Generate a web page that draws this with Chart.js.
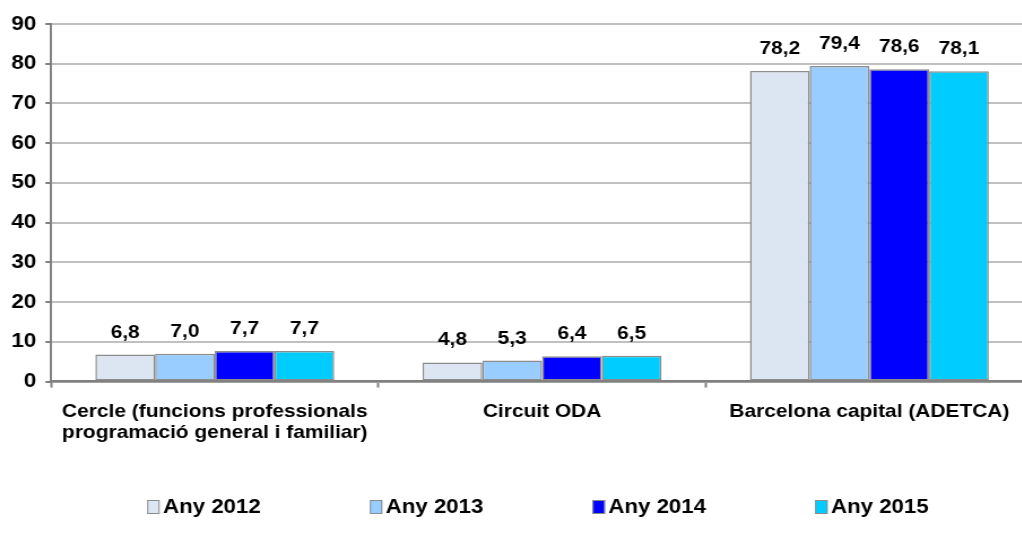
<!DOCTYPE html>
<html>
<head>
<meta charset="utf-8">
<script src="https://cdn.jsdelivr.net/npm/chart.js@4"></script>
<style>
  html, body { margin: 0; padding: 0; background: #fff; overflow: hidden; }
  /* the source chart is a bit stretched sideways and cut off on the right,
     so the canvas is drawn narrower, scaled up by css and clipped by the page */
  #chart { width: 1033px; height: 545px; }
</style>
</head>
<body>
<canvas id="chart" width="914" height="545" style="width:1033px;height:545px"></canvas>
<script>
// categories (x axis)
const categories = [
    ['Cercle (funcions professionals', 'programació general i familiar)'],
    'Circuit ODA',
    'Barcelona capital (ADETCA)'
];

// series
const seriesNames = ['Any 2012', 'Any 2013', 'Any 2014', 'Any 2015'];
const any2012 = [6.8, 4.8, 78.2];
const any2013 = [7.0, 5.3, 79.4];
const any2014 = [7.7, 6.4, 78.6];
const any2015 = [7.7, 6.5, 78.1];

// y axis ticks
const yMin = 0;
const yMax = 90;
const yStep = 10;

const colors = ['#dce6f2', '#99ccff', '#0000ff', '#00ccff'];
const borderGray = '#8c8c8c';
const fontFamily = '"Liberation Sans", Arial, sans-serif';
const fontSize = 18.5;

// value labels above each bar, with a comma as decimal mark
const valueLabels = {
    id: 'valueLabels',
    afterDatasetsDraw(chart) {
        const ctx = chart.ctx;
        ctx.save();
        ctx.font = 'bold ' + fontSize + 'px ' + fontFamily;
        ctx.fillStyle = '#000';
        ctx.textAlign = 'center';
        ctx.textBaseline = 'alphabetic';
        chart.data.datasets.forEach((ds, i) => {
            chart.getDatasetMeta(i).data.forEach((bar, j) => {
                const txt = ds.data[j].toFixed(1).replace('.', ',');
                ctx.fillText(txt, bar.x, bar.y - 17);
            });
        });
        ctx.restore();
    }
};

// legend drawn by hand so the items can sit far apart like the original
const wideLegend = {
    id: 'wideLegend',
    afterDraw(chart) {
        const ctx = chart.ctx;
        const area = chart.chartArea;
        const y = 507;
        ctx.save();
        ctx.font = 'bold 19.7px ' + fontFamily;
        ctx.textBaseline = 'middle';
        ctx.textAlign = 'left';
        chart.data.datasets.forEach((ds, i) => {
            const x = area.left + 85 + i * 197;
            ctx.fillStyle = ds.backgroundColor;
            ctx.fillRect(x, y - 7, 11, 14);
            ctx.strokeStyle = borderGray;
            ctx.lineWidth = 1;
            ctx.strokeRect(x + 0.5, y - 6.5, 10, 13);
            ctx.fillStyle = '#000';
            ctx.fillText(ds.label, x + 14, y + 1);
        });
        ctx.restore();
    }
};

const seriesData = [any2012, any2013, any2014, any2015];

const chart = new Chart(document.getElementById('chart'), {
    type: 'bar',
    data: {
        labels: categories,
        datasets: seriesNames.map((name, i) => ({
            label: name,
            data: seriesData[i],
            backgroundColor: colors[i],
            borderColor: borderGray,
            borderWidth: 1.5,
            borderSkipped: false,
            categoryPercentage: 0.73,
            barPercentage: 1.0
        }))
    },
    options: {
        responsive: false,
        devicePixelRatio: 1,
        animation: false,
        layout: {
            padding: { top: 24, left: 2, right: 0, bottom: 88 }
        },
        plugins: {
            legend: { display: false },
            tooltip: { enabled: false }
        },
        scales: {
            x: {
                grid: {
                    display: true,
                    drawOnChartArea: false,
                    drawTicks: true,
                    tickLength: 6,
                    tickColor: '#808080',
                    tickWidth: 2,
                    offset: true
                },
                border: { display: true, color: '#808080', width: 2.5 },
                ticks: {
                    color: '#000',
                    padding: 14,
                    maxRotation: 0,
                    autoSkip: false,
                    font: { family: fontFamily, size: fontSize, weight: 'bold', lineHeight: 1.12 }
                }
            },
            y: {
                min: yMin,
                max: yMax,
                grid: {
                    color: '#c0c0c0',
                    lineWidth: 2,
                    borderDash: [8, 4],
                    tickLength: 5,
                    tickColor: '#808080',
                    tickWidth: 2,
                    tickBorderDash: []
                },
                border: { display: true, color: '#808080', width: 2 },
                ticks: {
                    stepSize: yStep,
                    color: '#000',
                    padding: 8,
                    font: { family: fontFamily, size: 20, weight: 'bold' }
                }
            }
        }
    },
    plugins: [valueLabels, wideLegend]
});
</script>
</body>
</html>
